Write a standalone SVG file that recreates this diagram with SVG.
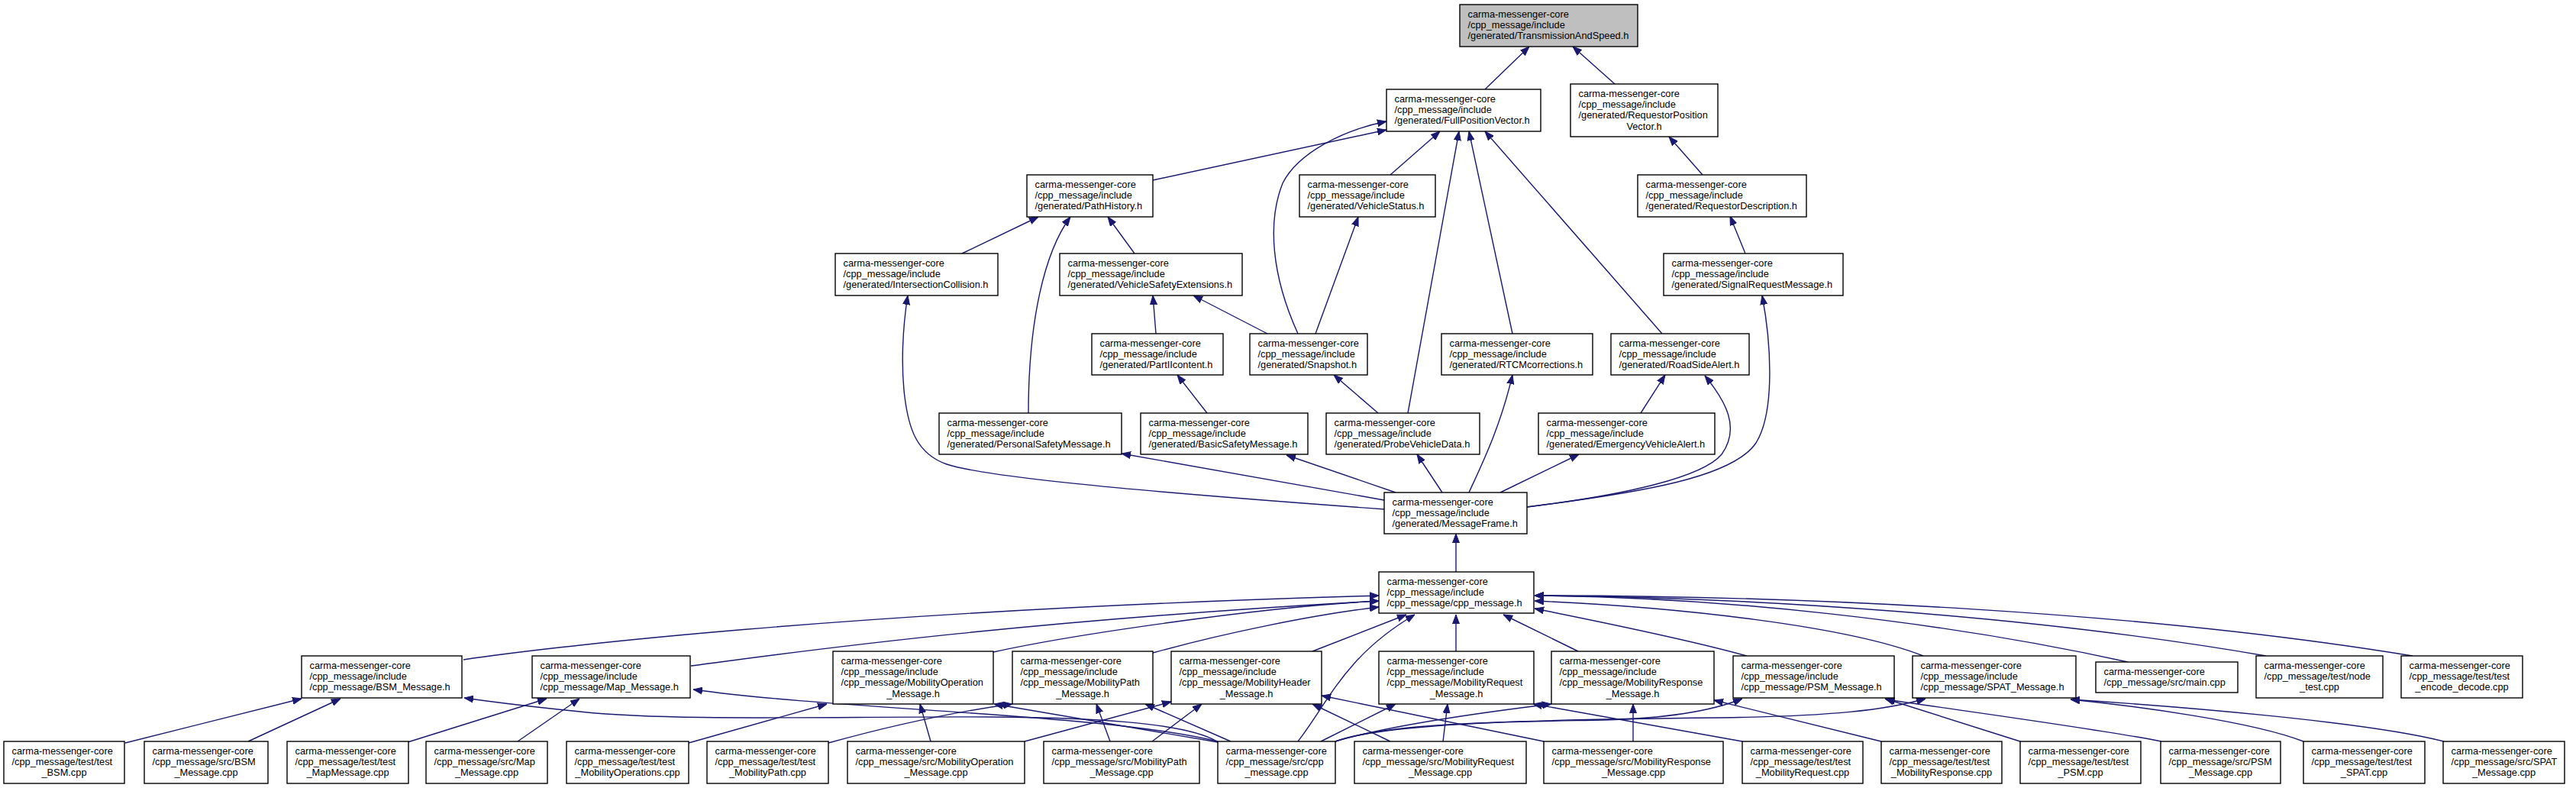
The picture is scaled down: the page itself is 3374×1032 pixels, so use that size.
<svg xmlns="http://www.w3.org/2000/svg" width="3374" height="1032" viewBox="0 0 3374 1032">
<defs>
<marker id="ah" viewBox="0 0 12 10" refX="12" refY="5" markerWidth="12" markerHeight="10" markerUnits="userSpaceOnUse" orient="auto"><path d="M0,0.5 L12,5 L0,9.5 z" fill="#191970" stroke="#191970" stroke-width="1"/></marker>
</defs>
<style>
.node rect{fill:#ffffff;stroke:#000000;stroke-width:1.4}
.node.hl rect{fill:#bfbfbf}
.node text{font-family:"Liberation Sans",Arial,Helvetica,sans-serif;font-size:12.8px;fill:#000000}
.node text.c{text-anchor:middle}
.edges path{fill:none;stroke:#191970;stroke-width:1.4;marker-end:url(#ah)}
</style>
<rect x="0" y="0" width="3374" height="1032" fill="#ffffff"/>
<g class="edges" id="connectors">
<path d="M1945,117 L2003,61"/>
<path d="M2115,110 L2060,61"/>
<path d="M1510,236 L1816,170"/>
<path d="M1821,229 L1886,172"/>
<path d="M1700,437 C1665,360 1660,290 1680,240 C1700,200 1760,170 1816,159"/>
<path d="M1844,541 L1911,172"/>
<path d="M1981,437 L1924,172"/>
<path d="M2177,437 L1945,172"/>
<path d="M2230,229 L2186,179"/>
<path d="M2286,332 L2266,283"/>
<path d="M1260,332 L1360,284"/>
<path d="M1486,332 L1451,284"/>
<path d="M1347,541 C1347,420 1368,330 1402,284"/>
<path d="M1514,437 L1510,387"/>
<path d="M1660,437 L1563,387"/>
<path d="M1723,437 L1779,284"/>
<path d="M1581,541 L1542,491"/>
<path d="M1805,541 L1747,491"/>
<path d="M2149,541 L2181,491"/>
<path d="M1813,655 L1469,594"/>
<path d="M1828,645 L1685,596"/>
<path d="M1889,645 L1856,595"/>
<path d="M1924,645 C1940,610 1965,560 1981,491"/>
<path d="M1965,645 L2068,595"/>
<path d="M2000,664 C2130,648 2230,625 2255,595 C2280,560 2260,525 2233,492"/>
<path d="M2000,664 C2150,645 2270,625 2300,580 C2325,540 2320,450 2308,387"/>
<path d="M1814,667 C1580,650 1300,628 1240,608 C1200,594 1190,560 1185,520 C1180,480 1182,430 1189,387"/>
<path d="M1907,749 L1907,699"/>
<path d="M607,864 C700,850 1100,800 1806,780"/>
<path d="M905,872 C1000,860 1300,815 1806,787"/>
<path d="M1301,854 C1400,832 1650,795 1806,787"/>
<path d="M1510,855 C1600,830 1720,805 1806,795"/>
<path d="M1719,853 L1842,805"/>
<path d="M1700,971 C1740,920 1760,860 1853,805"/>
<path d="M1907,853 L1907,805"/>
<path d="M2067,853 L1969,805"/>
<path d="M2288,859 C2220,840 2100,815 2010,797"/>
<path d="M2519,859 C2420,820 2200,795 2010,787"/>
<path d="M2787,867 C2537,812 2250,782 2010,780"/>
<path d="M2968,859 C2668,807 2300,782 2010,780"/>
<path d="M3160,859 C2800,800 2350,780 2010,780"/>
<path d="M164,973 L395,915"/>
<path d="M325,971 L446,915"/>
<path d="M534,972 L716,915"/>
<path d="M678,971 L759,915"/>
<path d="M1594,971 C1550,945 1420,940 1300,939 C1100,938 880,945 760,932 C700,926 650,920 608,914"/>
<path d="M1595,971 C1450,935 1100,930 908,903"/>
<path d="M1595,972 L1302,922"/>
<path d="M902,973 L1083,922"/>
<path d="M1085,973 C1150,955 1230,935 1326,922"/>
<path d="M1219,971 L1205,922"/>
<path d="M1342,971 L1534,919"/>
<path d="M1454,971 L1436,922"/>
<path d="M1509,971 L1574,922"/>
<path d="M1612,971 L1500,922"/>
<path d="M1821,971 L1719,922"/>
<path d="M2022,971 L1731,911"/>
<path d="M1730,971 L1828,922"/>
<path d="M1890,971 L1896,922"/>
<path d="M2282,971 L2008,922"/>
<path d="M1749,971 C1820,950 1950,932 2032,922"/>
<path d="M2139,971 L2139,922"/>
<path d="M2464,971 L2245,917"/>
<path d="M1749,971 C1820,945 2000,945 2100,943 C2180,941 2240,932 2282,915"/>
<path d="M1749,971 C1820,945 2050,942 2250,940 C2400,938 2470,930 2522,915"/>
<path d="M2646,971 L2469,915"/>
<path d="M2831,971 C2750,955 2600,935 2470,916"/>
<path d="M3017,971 C2950,945 2800,925 2712,916"/>
<path d="M3201,971 C3100,945 2850,925 2712,916"/>
</g>
<g class="node hl" id="n_tas"><rect x="1912" y="6" width="233" height="55"/><text x="1922.5" y="22.5">carma-messenger-core</text><text x="1922.5" y="36.8">/cpp_message/include</text><text x="1922.5" y="51.2">/generated/TransmissionAndSpeed.h</text></g>
<g class="node" id="n_fpv"><rect x="1816" y="117" width="202" height="55"/><text x="1826.5" y="133.5">carma-messenger-core</text><text x="1826.5" y="147.8">/cpp_message/include</text><text x="1826.5" y="162.2">/generated/FullPositionVector.h</text></g>
<g class="node" id="n_rpv"><rect x="2057" y="110" width="193" height="69"/><text x="2067.5" y="126.5">carma-messenger-core</text><text x="2067.5" y="140.8">/cpp_message/include</text><text x="2067.5" y="155.2">/generated/RequestorPosition</text><text class="c" x="2153.5" y="169.5">Vector.h</text></g>
<g class="node" id="n_ph"><rect x="1345" y="229" width="165" height="55"/><text x="1355.5" y="245.5">carma-messenger-core</text><text x="1355.5" y="259.8">/cpp_message/include</text><text x="1355.5" y="274.2">/generated/PathHistory.h</text></g>
<g class="node" id="n_vs"><rect x="1702" y="229" width="178" height="55"/><text x="1712.5" y="245.5">carma-messenger-core</text><text x="1712.5" y="259.8">/cpp_message/include</text><text x="1712.5" y="274.2">/generated/VehicleStatus.h</text></g>
<g class="node" id="n_rd"><rect x="2145" y="229" width="221" height="55"/><text x="2155.5" y="245.5">carma-messenger-core</text><text x="2155.5" y="259.8">/cpp_message/include</text><text x="2155.5" y="274.2">/generated/RequestorDescription.h</text></g>
<g class="node" id="n_ic"><rect x="1094" y="332" width="213" height="55"/><text x="1104.5" y="348.5">carma-messenger-core</text><text x="1104.5" y="362.8">/cpp_message/include</text><text x="1104.5" y="377.2">/generated/IntersectionCollision.h</text></g>
<g class="node" id="n_vse"><rect x="1388" y="332" width="239" height="55"/><text x="1398.5" y="348.5">carma-messenger-core</text><text x="1398.5" y="362.8">/cpp_message/include</text><text x="1398.5" y="377.2">/generated/VehicleSafetyExtensions.h</text></g>
<g class="node" id="n_srm"><rect x="2179" y="332" width="235" height="55"/><text x="2189.5" y="348.5">carma-messenger-core</text><text x="2189.5" y="362.8">/cpp_message/include</text><text x="2189.5" y="377.2">/generated/SignalRequestMessage.h</text></g>
<g class="node" id="n_p2"><rect x="1430" y="437" width="172" height="54"/><text x="1440.5" y="453.5">carma-messenger-core</text><text x="1440.5" y="467.8">/cpp_message/include</text><text x="1440.5" y="482.2">/generated/PartIIcontent.h</text></g>
<g class="node" id="n_snap"><rect x="1637" y="437" width="154" height="54"/><text x="1647.5" y="453.5">carma-messenger-core</text><text x="1647.5" y="467.8">/cpp_message/include</text><text x="1647.5" y="482.2">/generated/Snapshot.h</text></g>
<g class="node" id="n_rtcm"><rect x="1888" y="437" width="198" height="54"/><text x="1898.5" y="453.5">carma-messenger-core</text><text x="1898.5" y="467.8">/cpp_message/include</text><text x="1898.5" y="482.2">/generated/RTCMcorrections.h</text></g>
<g class="node" id="n_rsa"><rect x="2110" y="437" width="181" height="54"/><text x="2120.5" y="453.5">carma-messenger-core</text><text x="2120.5" y="467.8">/cpp_message/include</text><text x="2120.5" y="482.2">/generated/RoadSideAlert.h</text></g>
<g class="node" id="n_psm"><rect x="1230" y="541" width="239" height="54"/><text x="1240.5" y="557.5">carma-messenger-core</text><text x="1240.5" y="571.8">/cpp_message/include</text><text x="1240.5" y="586.2">/generated/PersonalSafetyMessage.h</text></g>
<g class="node" id="n_bsm"><rect x="1494" y="541" width="219" height="54"/><text x="1504.5" y="557.5">carma-messenger-core</text><text x="1504.5" y="571.8">/cpp_message/include</text><text x="1504.5" y="586.2">/generated/BasicSafetyMessage.h</text></g>
<g class="node" id="n_pvd"><rect x="1737" y="541" width="201" height="54"/><text x="1747.5" y="557.5">carma-messenger-core</text><text x="1747.5" y="571.8">/cpp_message/include</text><text x="1747.5" y="586.2">/generated/ProbeVehicleData.h</text></g>
<g class="node" id="n_eva"><rect x="2015" y="541" width="231" height="54"/><text x="2025.5" y="557.5">carma-messenger-core</text><text x="2025.5" y="571.8">/cpp_message/include</text><text x="2025.5" y="586.2">/generated/EmergencyVehicleAlert.h</text></g>
<g class="node" id="n_mf"><rect x="1813" y="645" width="187" height="54"/><text x="1823.5" y="661.5">carma-messenger-core</text><text x="1823.5" y="675.8">/cpp_message/include</text><text x="1823.5" y="690.2">/generated/MessageFrame.h</text></g>
<g class="node" id="n_cpph"><rect x="1806" y="749" width="203" height="54"/><text x="1816.5" y="765.5">carma-messenger-core</text><text x="1816.5" y="779.8">/cpp_message/include</text><text x="1816.5" y="794.2">/cpp_message/cpp_message.h</text></g>
<g class="node" id="n_bsmh"><rect x="395" y="859" width="210" height="55"/><text x="405.5" y="875.5">carma-messenger-core</text><text x="405.5" y="889.8">/cpp_message/include</text><text x="405.5" y="904.2">/cpp_message/BSM_Message.h</text></g>
<g class="node" id="n_maph"><rect x="697" y="859" width="207" height="55"/><text x="707.5" y="875.5">carma-messenger-core</text><text x="707.5" y="889.8">/cpp_message/include</text><text x="707.5" y="904.2">/cpp_message/Map_Message.h</text></g>
<g class="node" id="n_moh"><rect x="1091" y="853" width="210" height="69"/><text x="1101.5" y="869.5">carma-messenger-core</text><text x="1101.5" y="883.8">/cpp_message/include</text><text x="1101.5" y="898.2">/cpp_message/MobilityOperation</text><text class="c" x="1196" y="912.5">_Message.h</text></g>
<g class="node" id="n_mph"><rect x="1326" y="853" width="184" height="69"/><text x="1336.5" y="869.5">carma-messenger-core</text><text x="1336.5" y="883.8">/cpp_message/include</text><text x="1336.5" y="898.2">/cpp_message/MobilityPath</text><text class="c" x="1418" y="912.5">_Message.h</text></g>
<g class="node" id="n_mhh"><rect x="1534" y="853" width="197" height="69"/><text x="1544.5" y="869.5">carma-messenger-core</text><text x="1544.5" y="883.8">/cpp_message/include</text><text x="1544.5" y="898.2">/cpp_message/MobilityHeader</text><text class="c" x="1632.5" y="912.5">_Message.h</text></g>
<g class="node" id="n_mreqh"><rect x="1806" y="853" width="203" height="69"/><text x="1816.5" y="869.5">carma-messenger-core</text><text x="1816.5" y="883.8">/cpp_message/include</text><text x="1816.5" y="898.2">/cpp_message/MobilityRequest</text><text class="c" x="1907.5" y="912.5">_Message.h</text></g>
<g class="node" id="n_mresh"><rect x="2032" y="853" width="213" height="69"/><text x="2042.5" y="869.5">carma-messenger-core</text><text x="2042.5" y="883.8">/cpp_message/include</text><text x="2042.5" y="898.2">/cpp_message/MobilityResponse</text><text class="c" x="2138.5" y="912.5">_Message.h</text></g>
<g class="node" id="n_psmh"><rect x="2270" y="859" width="211" height="55"/><text x="2280.5" y="875.5">carma-messenger-core</text><text x="2280.5" y="889.8">/cpp_message/include</text><text x="2280.5" y="904.2">/cpp_message/PSM_Message.h</text></g>
<g class="node" id="n_spath"><rect x="2505" y="859" width="214" height="55"/><text x="2515.5" y="875.5">carma-messenger-core</text><text x="2515.5" y="889.8">/cpp_message/include</text><text x="2515.5" y="904.2">/cpp_message/SPAT_Message.h</text></g>
<g class="node" id="n_main"><rect x="2745" y="867" width="186" height="40"/><text x="2755.5" y="883.5">carma-messenger-core</text><text x="2755.5" y="897.8">/cpp_message/src/main.cpp</text></g>
<g class="node" id="n_node"><rect x="2955" y="859" width="166" height="55"/><text x="2965.5" y="875.5">carma-messenger-core</text><text x="2965.5" y="889.8">/cpp_message/test/node</text><text class="c" x="3038" y="904.2">_test.cpp</text></g>
<g class="node" id="n_enc"><rect x="3145" y="859" width="159" height="55"/><text x="3155.5" y="875.5">carma-messenger-core</text><text x="3155.5" y="889.8">/cpp_message/test/test</text><text class="c" x="3224.5" y="904.2">_encode_decode.cpp</text></g>
<g class="node" id="t_bsm"><rect x="5" y="971" width="158" height="55"/><text x="15.5" y="987.5">carma-messenger-core</text><text x="15.5" y="1001.8">/cpp_message/test/test</text><text class="c" x="84" y="1016.2">_BSM.cpp</text></g>
<g class="node" id="s_bsm"><rect x="189" y="971" width="162" height="55"/><text x="199.5" y="987.5">carma-messenger-core</text><text x="199.5" y="1001.8">/cpp_message/src/BSM</text><text class="c" x="270" y="1016.2">_Message.cpp</text></g>
<g class="node" id="t_map"><rect x="376" y="971" width="159" height="55"/><text x="386.5" y="987.5">carma-messenger-core</text><text x="386.5" y="1001.8">/cpp_message/test/test</text><text class="c" x="455.5" y="1016.2">_MapMessage.cpp</text></g>
<g class="node" id="s_map"><rect x="558" y="971" width="159" height="55"/><text x="568.5" y="987.5">carma-messenger-core</text><text x="568.5" y="1001.8">/cpp_message/src/Map</text><text class="c" x="637.5" y="1016.2">_Message.cpp</text></g>
<g class="node" id="t_mo"><rect x="742" y="971" width="160" height="55"/><text x="752.5" y="987.5">carma-messenger-core</text><text x="752.5" y="1001.8">/cpp_message/test/test</text><text class="c" x="822" y="1016.2">_MobilityOperations.cpp</text></g>
<g class="node" id="t_mp"><rect x="926" y="971" width="159" height="55"/><text x="936.5" y="987.5">carma-messenger-core</text><text x="936.5" y="1001.8">/cpp_message/test/test</text><text class="c" x="1005.5" y="1016.2">_MobilityPath.cpp</text></g>
<g class="node" id="s_mo"><rect x="1110" y="971" width="232" height="55"/><text x="1120.5" y="987.5">carma-messenger-core</text><text x="1120.5" y="1001.8">/cpp_message/src/MobilityOperation</text><text class="c" x="1226" y="1016.2">_Message.cpp</text></g>
<g class="node" id="s_mp"><rect x="1367" y="971" width="204" height="55"/><text x="1377.5" y="987.5">carma-messenger-core</text><text x="1377.5" y="1001.8">/cpp_message/src/MobilityPath</text><text class="c" x="1469" y="1016.2">_Message.cpp</text></g>
<g class="node" id="s_cpp"><rect x="1595" y="971" width="154" height="55"/><text x="1605.5" y="987.5">carma-messenger-core</text><text x="1605.5" y="1001.8">/cpp_message/src/cpp</text><text class="c" x="1672" y="1016.2">_message.cpp</text></g>
<g class="node" id="s_mreq"><rect x="1774" y="971" width="225" height="55"/><text x="1784.5" y="987.5">carma-messenger-core</text><text x="1784.5" y="1001.8">/cpp_message/src/MobilityRequest</text><text class="c" x="1886.5" y="1016.2">_Message.cpp</text></g>
<g class="node" id="s_mres"><rect x="2022" y="971" width="235" height="55"/><text x="2032.5" y="987.5">carma-messenger-core</text><text x="2032.5" y="1001.8">/cpp_message/src/MobilityResponse</text><text class="c" x="2139.5" y="1016.2">_Message.cpp</text></g>
<g class="node" id="t_mreq"><rect x="2282" y="971" width="158" height="55"/><text x="2292.5" y="987.5">carma-messenger-core</text><text x="2292.5" y="1001.8">/cpp_message/test/test</text><text class="c" x="2361" y="1016.2">_MobilityRequest.cpp</text></g>
<g class="node" id="t_mres"><rect x="2464" y="971" width="158" height="55"/><text x="2474.5" y="987.5">carma-messenger-core</text><text x="2474.5" y="1001.8">/cpp_message/test/test</text><text class="c" x="2543" y="1016.2">_MobilityResponse.cpp</text></g>
<g class="node" id="t_psm"><rect x="2646" y="971" width="158" height="55"/><text x="2656.5" y="987.5">carma-messenger-core</text><text x="2656.5" y="1001.8">/cpp_message/test/test</text><text class="c" x="2725" y="1016.2">_PSM.cpp</text></g>
<g class="node" id="s_psm"><rect x="2830" y="971" width="157" height="55"/><text x="2840.5" y="987.5">carma-messenger-core</text><text x="2840.5" y="1001.8">/cpp_message/src/PSM</text><text class="c" x="2908.5" y="1016.2">_Message.cpp</text></g>
<g class="node" id="t_spat"><rect x="3017" y="971" width="159" height="55"/><text x="3027.5" y="987.5">carma-messenger-core</text><text x="3027.5" y="1001.8">/cpp_message/test/test</text><text class="c" x="3096.5" y="1016.2">_SPAT.cpp</text></g>
<g class="node" id="s_spat"><rect x="3200" y="971" width="159" height="55"/><text x="3210.5" y="987.5">carma-messenger-core</text><text x="3210.5" y="1001.8">/cpp_message/src/SPAT</text><text class="c" x="3279.5" y="1016.2">_Message.cpp</text></g>
</svg>
